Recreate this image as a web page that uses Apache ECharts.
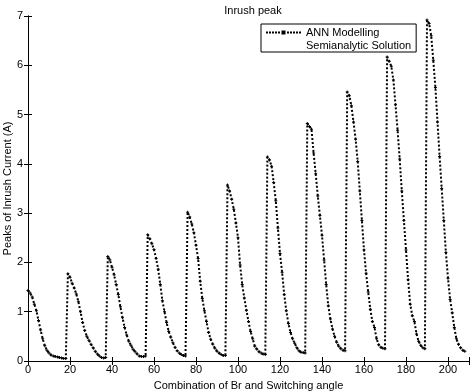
<!DOCTYPE html>
<html>
<head>
<meta charset="utf-8">
<script src="https://cdn.jsdelivr.net/npm/echarts@6/dist/echarts.min.js"></script>
<style>
  html, body { margin: 0; padding: 0; background: #fff; }
  #chart { width: 471px; height: 392px; }
</style>
</head>
<body>
<div id="chart"></div>
<script>
// peaks of inrush current, one block of 19 samples per Br value
const block1 = [1.43, 1.38, 1.30, 1.15, 1.02, 0.82, 0.63, 0.45, 0.31, 0.22, 0.16, 0.12, 0.10, 0.09, 0.08, 0.07, 0.06, 0.05, 0.05];
const block2 = [1.77, 1.70, 1.58, 1.48, 1.36, 1.20, 1.00, 0.78, 0.62, 0.50, 0.42, 0.34, 0.27, 0.20, 0.14, 0.10, 0.07, 0.06, 0.07];
const block3 = [2.12, 2.05, 1.90, 1.75, 1.55, 1.35, 1.10, 0.88, 0.68, 0.53, 0.40, 0.32, 0.24, 0.19, 0.14, 0.10, 0.09, 0.09, 0.10];
const block4 = [2.56, 2.48, 2.38, 2.26, 2.08, 1.86, 1.55, 1.22, 1.00, 0.78, 0.60, 0.48, 0.37, 0.28, 0.21, 0.16, 0.13, 0.11, 0.10];
const block5 = [3.02, 2.92, 2.78, 2.60, 2.35, 2.08, 1.62, 1.27, 1.02, 0.80, 0.58, 0.44, 0.34, 0.26, 0.20, 0.16, 0.13, 0.11, 0.11];
const block6 = [3.57, 3.45, 3.28, 3.08, 2.80, 2.50, 1.95, 1.55, 1.28, 1.03, 0.80, 0.60, 0.45, 0.30, 0.24, 0.19, 0.16, 0.14, 0.13];
const block7 = [4.14, 4.08, 3.95, 3.62, 3.25, 2.70, 2.18, 1.80, 1.35, 1.02, 0.76, 0.58, 0.45, 0.36, 0.27, 0.21, 0.18, 0.17, 0.16];
const block8 = [4.82, 4.76, 4.70, 4.22, 3.80, 3.35, 2.95, 2.55, 2.05, 1.55, 1.12, 0.85, 0.65, 0.50, 0.38, 0.30, 0.25, 0.22, 0.21];
const block9 = [5.46, 5.38, 5.18, 4.85, 4.50, 4.05, 3.45, 2.85, 2.25, 1.78, 1.40, 1.05, 0.80, 0.68, 0.45, 0.33, 0.28, 0.26, 0.25];
const block10 = [6.17, 6.08, 5.98, 5.70, 5.20, 4.68, 4.10, 3.45, 2.85, 2.25, 1.65, 1.15, 0.92, 0.80, 0.55, 0.40, 0.32, 0.27, 0.25];
const block11 = [6.92, 6.85, 6.60, 6.10, 5.55, 4.85, 4.15, 3.50, 2.85, 2.20, 1.68, 1.25, 0.98, 0.68, 0.45, 0.34, 0.27, 0.22, 0.20];

const xTicks = [0, 20, 40, 60, 80, 100, 120, 140, 160, 180, 200];
const yTicks = [0, 1, 2, 3, 4, 5, 6, 7];

const peaks = [].concat(block1, block2, block3, block4, block5, block6,
    block7, block8, block9, block10, block11);
// x is just the sample number
const points = peaks.map((v, i) => [i, v]);

const font = 'Liberation Sans, Arial, sans-serif';
const black = '#000';

// legend sample: dotted line with a dot in the middle (35 x 4)
const dottedIcon = 'path://M0,1h2v2h-2z M3,1h2v2h-2z M6,1h2v2h-2z M9,1h2v2h-2z M12,1h2v2h-2z ' +
    'M15.5,0h4v4h-4z M21,1h2v2h-2z M24,1h2v2h-2z M27,1h2v2h-2z M30,1h2v2h-2z M33,1h2v2h-2z';

const chart = echarts.init(document.getElementById('chart'), null, { renderer: 'canvas' });

const frameAxis = {
    axisLine: { show: true, lineStyle: { color: black, width: 1 } },
    axisTick: { show: true, inside: true, length: 4, lineStyle: { color: black } },
    splitLine: { show: false }
};

chart.setOption({
    animation: false,
    backgroundColor: '#fff',
    title: {
        text: 'Inrush peak',
        left: 248,
        top: 0,
        textAlign: 'center',
        textStyle: { fontFamily: font, fontSize: 11, fontWeight: 'normal', color: black }
    },
    legend: {
        orient: 'vertical',
        left: 261,
        top: 24,
        padding: [3, 5, 1, 5],
        itemGap: 2,
        itemWidth: 35,
        itemHeight: 10,
        backgroundColor: '#fff',
        borderColor: black,
        borderWidth: 1,
        textStyle: { fontFamily: font, fontSize: 11, color: black },
        data: [
            { name: 'ANN Modelling', icon: dottedIcon, itemStyle: { color: black, borderWidth: 0 } },
            { name: 'Semianalytic Solution', icon: 'none' }
        ]
    },
    grid: { left: 28, right: 2, top: 16, bottom: 31, outerBoundsMode: 'none', containLabel: false },
    xAxis: [
        Object.assign({}, frameAxis, {
            type: 'value',
            min: 0,
            max: 210,
            interval: 20,
            position: 'bottom',
            name: 'Combination of Br and Switching angle',
            nameLocation: 'middle',
            nameGap: 19,
            nameMoveOverlap: false,
            nameTextStyle: { fontFamily: font, fontSize: 11, color: black },
            axisLabel: {
                margin: 3,
                fontFamily: font, fontSize: 11, color: black,
                customValues: xTicks
            }
        }),
        Object.assign({}, frameAxis, {
            type: 'value',
            min: 0,
            max: 210,
            interval: 20,
            position: 'top',
            axisLabel: { show: false }
        })
    ],
    yAxis: [
        Object.assign({}, frameAxis, {
            type: 'value',
            min: 0,
            max: 7,
            interval: 1,
            position: 'left',
            name: 'Peaks of Inrush Current (A)',
            nameLocation: 'middle',
            nameGap: 15,
            nameMoveOverlap: false,
            nameTextStyle: { fontFamily: font, fontSize: 11, color: black },
            axisLabel: {
                margin: 5,
                fontFamily: font, fontSize: 11, color: black,
                customValues: yTicks
            }
        }),
        Object.assign({}, frameAxis, {
            type: 'value',
            min: 0,
            max: 7,
            interval: 1,
            position: 'right',
            axisLabel: { show: false }
        })
    ],
    series: [
        {
            name: 'ANN Modelling',
            type: 'line',
            data: points,
            symbol: 'none',
            itemStyle: { color: black },
            lineStyle: { color: black, width: 2, type: [2, 2] },
            z: 3
        },
        {
            name: 'Semianalytic Solution',
            type: 'line',
            data: points,
            symbol: 'path://M1,0H2V1H3V2H2V3H1V2H0V1H1Z',
            symbolSize: 3,
            showSymbol: true,
            itemStyle: { color: black },
            lineStyle: { opacity: 0 },
            z: 2
        }
    ]
});

window.addEventListener('resize', () => chart.resize());
</script>
</body>
</html>
